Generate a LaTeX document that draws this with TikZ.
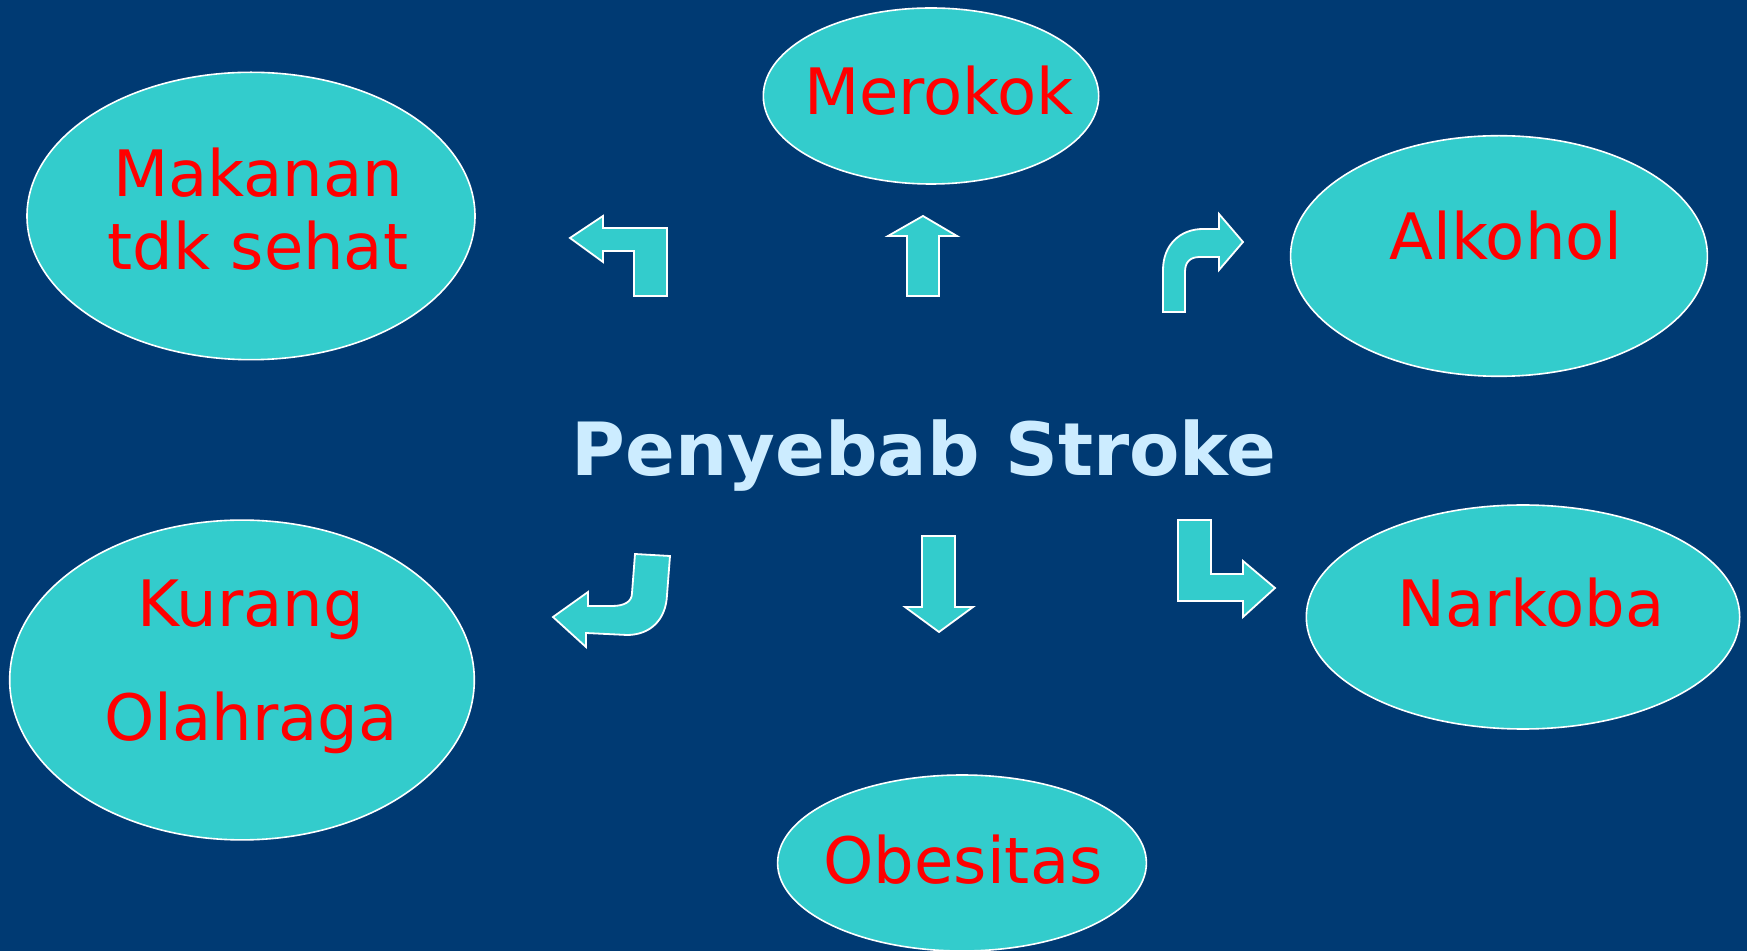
\documentclass[tikz,border=0pt]{standalone}
\usepackage{fontspec}
\setmainfont{DejaVu Sans}
\usepackage{tikz}
\usetikzlibrary{shapes.geometric}

\definecolor{bgblue}{RGB}{0,58,115}
\definecolor{bubblefill}{RGB}{51,204,204}
\definecolor{titleblue}{RGB}{204,236,255}
\definecolor{causered}{RGB}{255,0,0}

\begin{document}
\begin{tikzpicture}[
  x=0.5pt, y=-0.5pt,
  bubble/.style={ellipse, draw=white, line width=0.8pt, fill=bubblefill,
    inner sep=0pt, outer sep=0pt},
  cause/.style={anchor=base, text=causered, inner sep=0pt,
    font=\fontsize{32}{38}\selectfont},
  title/.style={anchor=base, text=titleblue, inner sep=0pt,
    font=\fontsize{36.7}{44}\selectfont\bfseries},
  blockarrow/.style={fill=bubblefill, draw=white, line width=0.9pt, line join=miter}
]
  % background
  \fill[bgblue] (0,0) rectangle (1747,951);
  \useasboundingbox (0,0) rectangle (1747,951);

  % the causes
  \node[bubble, minimum width=224pt, minimum height=143.7pt] (makanan) at (251,216) {};
  \node[bubble, minimum width=167.7pt, minimum height=88pt] (merokok) at (931,96) {};
  \node[bubble, minimum width=208.4pt, minimum height=120.3pt] (alkohol) at (1499,256) {};
  \node[bubble, minimum width=232.3pt, minimum height=159.9pt] (kurang) at (242,680) {};
  \node[bubble, minimum width=216.7pt, minimum height=112pt] (narkoba) at (1523,617) {};
  \node[bubble, minimum width=184.4pt, minimum height=88pt] (obesitas) at (962,863) {};

  \node[cause] (makananA) at (258,197) {Makanan};
  \node[cause] (makananB) at (258,270) {tdk sehat};
  \node[cause] (merokokT) at (939,115) {Merokok};
  \node[cause] (alkoholT) at (1506,260) {Alkohol};
  \node[cause] (kurangA) at (251,627) {Kurang};
  \node[cause] (kurangB) at (251,741) {Olahraga};
  \node[cause] (narkobaT) at (1531,627) {Narkoba};
  \node[cause] (obesitasT) at (963,884) {Obesitas};

  \node[title] (judul) at (924,476) {Penyebab Stroke};

  % block arrows
  \filldraw[blockarrow] (570,238) -- (603,216) -- (603,228) -- (667,228) -- (667,296)
    -- (634,296) -- (634,251) -- (603,251) -- (603,262) -- cycle;
  \filldraw[blockarrow] (923,216) -- (957,236) -- (939,236) -- (939,296) -- (907,296)
    -- (907,236) -- (888,236) -- cycle;
  \filldraw[blockarrow] (1243,242) -- (1219,214) -- (1219,229) -- (1203,229)
    .. controls (1180,229) and (1163,245) .. (1163,270) -- (1163,312) -- (1185,312)
    -- (1185,272) .. controls (1185,262) and (1190,257) .. (1200,257) -- (1219,257)
    -- (1219,270) -- cycle;
  \filldraw[blockarrow] (635,554) -- (670,556) -- (667,595)
    .. controls (666,620) and (650,635) .. (627,635) -- (586,633) -- (586,647)
    -- (553,617) -- (588,592) -- (588,606) -- (612,606)
    .. controls (624,606) and (632,602) .. (632,593) -- cycle;
  \filldraw[blockarrow] (922,536) -- (955,536) -- (955,607) -- (973,607) -- (939,632)
    -- (905,607) -- (922,607) -- cycle;
  \filldraw[blockarrow] (1178,520) -- (1211,520) -- (1211,574) -- (1243,574) -- (1243,561)
    -- (1275,588) -- (1243,617) -- (1243,601) -- (1178,601) -- cycle;
\end{tikzpicture}
\end{document}
